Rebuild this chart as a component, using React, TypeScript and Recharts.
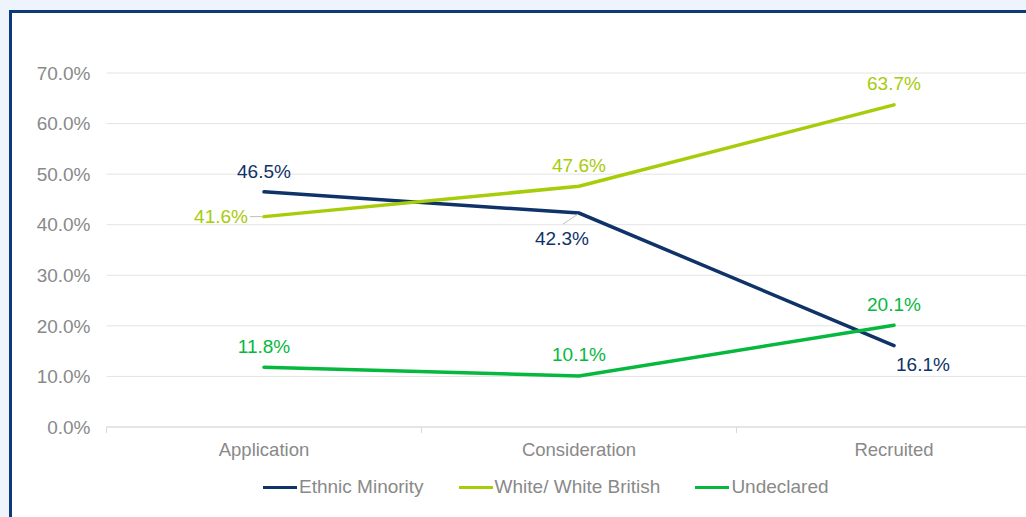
import React from 'react';
import { LineChart, Line, XAxis, YAxis, CartesianGrid, LabelList, Legend } from 'recharts';

// chart values
const categories = ['Application', 'Consideration', 'Recruited'];
const ethnicMinority = [46.5, 42.3, 16.1];
const whiteBritish = [41.6, 47.6, 63.7];
const undeclared = [11.8, 10.1, 20.1];
const yTicks = [0, 10, 20, 30, 40, 50, 60, 70];

const NAVY = '#0f3368';
const LIME = '#a6cc0a';
const GREEN = '#06b83e';
const GREY_TEXT = '#898989';
const FONT = '"Liberation Sans", Arial, sans-serif';

const CHART_W = 1100;
const CHART_H = 520;
const MARGIN = { top: 60, right: 60.5, left: 4.5, bottom: 76 };
const Y_AXIS_W = 90;
const PLOT_W = CHART_W - MARGIN.left - MARGIN.right - Y_AXIS_W;
const BAND = PLOT_W / categories.length;

const data = categories.map((name, i) => ({
  name,
  ethnic: ethnicMinority[i],
  white: whiteBritish[i],
  undeclared: undeclared[i],
}));

const series = [
  { key: 'ethnic', name: 'Ethnic Minority', color: NAVY },
  { key: 'white', name: 'White/ White British', color: LIME },
  { key: 'undeclared', name: 'Undeclared', color: GREEN },
];

// label placement per point (offsets from the point)
type Place = { dx: number; dy: number; anchor: 'start' | 'middle' | 'end'; leader?: [number, number, number, number] };
const placements: Record<string, Place[]> = {
  ethnic: [
    { dx: 0, dy: -20, anchor: 'middle' },
    { dx: -17, dy: 25, anchor: 'middle', leader: [-1, 1, -16, 11] },
    { dx: 2, dy: 18.5, anchor: 'start' },
  ],
  white: [
    { dx: -16, dy: 0, anchor: 'end', leader: [-14, 0, -2, 0] },
    { dx: 0, dy: -21, anchor: 'middle' },
    { dx: 0, dy: -21, anchor: 'middle' },
  ],
  undeclared: [
    { dx: 0, dy: -21, anchor: 'middle' },
    { dx: 0, dy: -21, anchor: 'middle' },
    { dx: 0, dy: -21, anchor: 'middle' },
  ],
};

const makeLabel = (key: string, color: string) => (props: any) => {
  const { x, y, value, index } = props;
  const p = placements[key][index];
  return (
    <g>
      {p.leader && (
        <line
          x1={x + p.leader[0]}
          y1={y + p.leader[1]}
          x2={x + p.leader[2]}
          y2={y + p.leader[3]}
          stroke="#bfbfbf"
          strokeWidth={1}
        />
      )}
      <text
        x={x + p.dx}
        y={y + p.dy}
        textAnchor={p.anchor}
        dominantBaseline="central"
        fill={color}
        fontSize={19}
        fontFamily={FONT}
      >
        {Number(value).toFixed(1)}%
      </text>
    </g>
  );
};

const CategoryTick = (props: any) => {
  const { x, y, payload, index } = props;
  const left = x - BAND / 2;
  return (
    <g>
      <line x1={left} y1={y} x2={left} y2={y + 6} stroke="#d9d9d9" />
      {index === categories.length - 1 && (
        <line x1={x + BAND / 2} y1={y} x2={x + BAND / 2} y2={y + 6} stroke="#d9d9d9" />
      )}
      <text
        x={x}
        y={y + 22}
        textAnchor="middle"
        dominantBaseline="central"
        fill={GREY_TEXT}
        fontSize={18.5}
        fontFamily={FONT}
      >
        {payload.value}
      </text>
    </g>
  );
};

const LegendContent = () => (
  <div style={{ display: 'flex', alignItems: 'center', fontFamily: FONT, fontSize: 19, color: GREY_TEXT }}>
    {series.map((s) => (
      <div key={s.key} style={{ display: 'flex', alignItems: 'center', marginRight: 35 }}>
        <span style={{ display: 'inline-block', width: 34, height: 3, background: s.color, marginRight: 2 }} />
        <span>{s.name}</span>
      </div>
    ))}
  </div>
);

export default function App() {
  return (
    <div
      style={{
        position: 'fixed',
        left: 0,
        top: 0,
        width: 1026,
        height: 517,
        overflow: 'hidden',
        background: '#edf4fc',
      }}
    >
      <div
        style={{
          position: 'absolute',
          left: 9,
          top: 10,
          width: CHART_W,
          height: CHART_H,
          border: '3px solid #0d3a78',
          background: '#ffffff',
        }}
      >
        <LineChart width={CHART_W} height={CHART_H} data={data} margin={MARGIN}>
          <CartesianGrid vertical={false} stroke="#e4e4e4" strokeWidth={1} />
          <XAxis
            dataKey="name"
            axisLine={{ stroke: '#d9d9d9' }}
            tickLine={false}
            tickSize={0}
            tickMargin={0}
            tick={<CategoryTick />}
            interval={0}
            padding={{ left: BAND / 2, right: BAND / 2 }}
          />
          <YAxis
            width={Y_AXIS_W}
            domain={[0, 70]}
            ticks={yTicks}
            axisLine={false}
            tickLine={false}
            tickSize={0}
            tickMargin={16}
            tickFormatter={(v: number) => `${v.toFixed(1)}%`}
            tick={{ fill: GREY_TEXT, fontSize: 19, fontFamily: FONT }}
          />
          <Legend
            layout="horizontal"
            align="center"
            verticalAlign="middle"
            content={<LegendContent />}
            wrapperStyle={{ left: 251, top: 463, width: 'auto' }}
          />
          {series.map((s) => (
            <Line
              key={s.key}
              type="linear"
              dataKey={s.key}
              name={s.name}
              stroke={s.color}
              strokeWidth={3.5}
              strokeLinecap="round"
              dot={false}
              activeDot={false}
              isAnimationActive={false}
            >
              <LabelList dataKey={s.key} content={makeLabel(s.key, s.color)} />
            </Line>
          ))}
        </LineChart>
      </div>
    </div>
  );
}
